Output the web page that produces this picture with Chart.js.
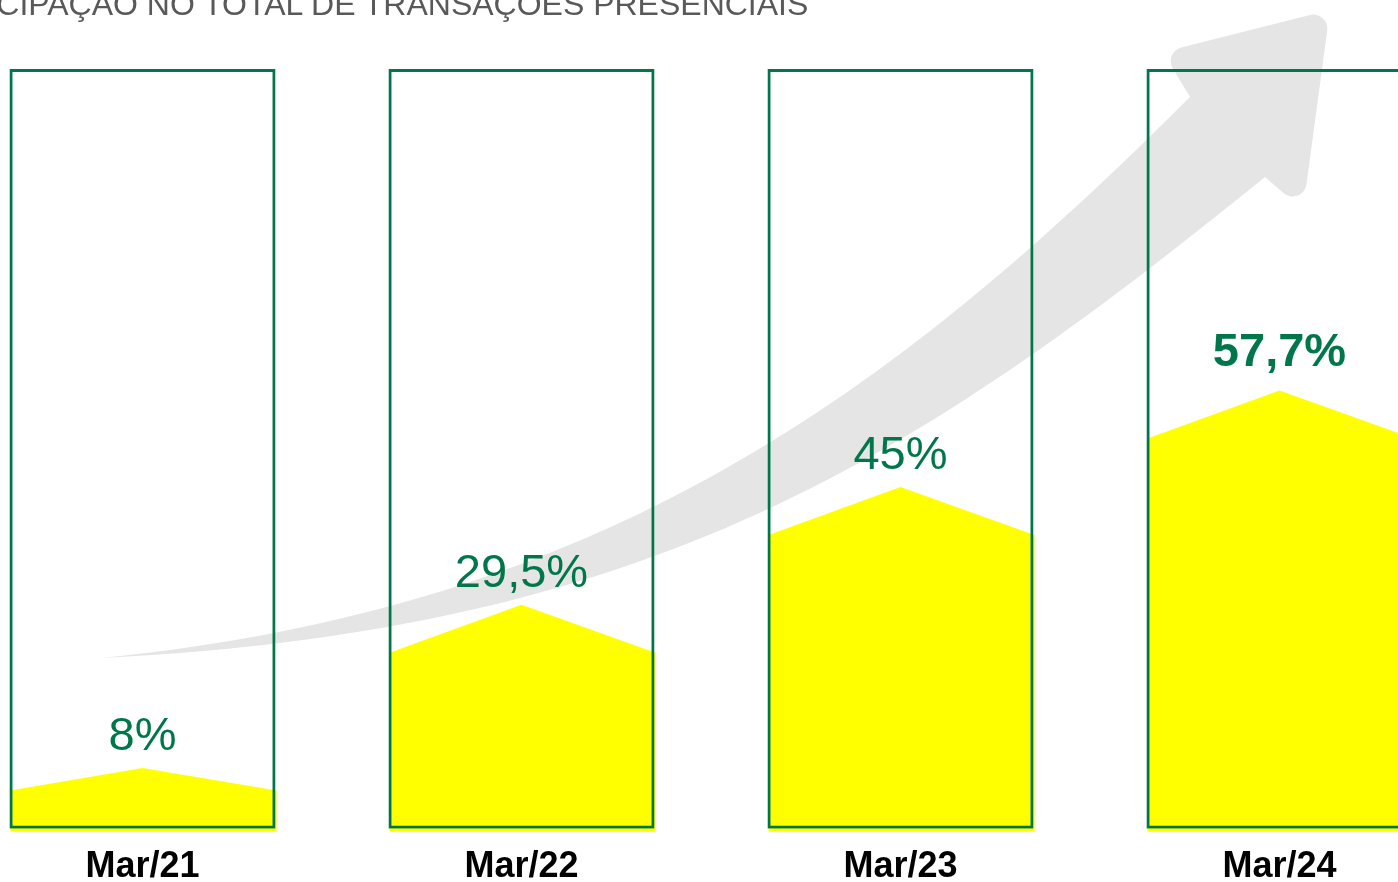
<!DOCTYPE html>
<html>
<head>
<meta charset="utf-8">
<script src="https://cdn.jsdelivr.net/npm/chart.js@4.4.1/dist/chart.umd.min.js"></script>
<style>
html, body { margin: 0; padding: 0; background: #fff; overflow: hidden; width: 1398px; height: 882px; }
#wrap { position: absolute; left: -47px; top: 0; width: 1516px; height: 919px; }
#title { position: absolute; left: -95px; top: -12px; font: 32px "Liberation Sans", Arial, sans-serif; line-height: 32px; color: #595959; white-space: nowrap; }
</style>
</head>
<body>
<div id="wrap"><canvas id="chart_1"></canvas></div>
<div id="title">PARTICIPAÇÃO NO TOTAL DE TRANSAÇÕES PRESENCIAIS</div>
<script>
let labels = ['Mar/21', 'Mar/22', 'Mar/23', 'Mar/24'];
let share = [8, 29.5, 45, 57.7];
let fullScale = [100, 100, 100, 100];
let highlight = [false, false, false, true];

const OFF = 47; // canvas starts left of the window
const green = '#00774a';
const font = '"Liberation Sans", Arial, sans-serif';

let fmt = v => String(v).replace('.', ',') + '%';

// grey growth arrow + yellow "house" shapes behind the frames, labels on top
let shapesPlugin = {
    id: 'shapes',
    beforeDatasetsDraw(chart) {
        const ctx = chart.ctx;
        const p = (x, y) => [x + OFF, y];
        ctx.save();
        ctx.fillStyle = '#e5e5e5';
        ctx.beginPath();
        ctx.moveTo(...p(102, 658));
        ctx.bezierCurveTo(...p(602, 608), ...p(890, 397), ...p(1190, 97));
        ctx.arcTo(...p(1163, 52), ...p(1330, 10), 14);
        ctx.arcTo(...p(1330, 10), ...p(1303, 210), 14);
        ctx.arcTo(...p(1303, 210), ...p(1265, 177), 14);
        ctx.lineTo(...p(1265, 177));
        ctx.bezierCurveTo(...p(915, 460.5), ...p(652, 630.5), ...p(102, 658));
        ctx.closePath();
        ctx.fill();

        ctx.fillStyle = '#ffff00';
        chart.getDatasetMeta(1).data.forEach(bar => {
            const {x, y, base, width} = bar.getProps(['x', 'y', 'base', 'width'], true);
            const l = x - width / 2 + 1, r = x + width / 2 + 1, b = base + 3;
            const drop = Math.min(48, (base - y) * 0.37);
            ctx.beginPath();
            ctx.moveTo(l, b);
            ctx.lineTo(l, y + drop);
            ctx.lineTo(x, y);
            ctx.lineTo(r, y + drop);
            ctx.lineTo(r, b);
            ctx.closePath();
            ctx.fill();
        });
        ctx.restore();
    },
    afterDatasetsDraw(chart) {
        const ctx = chart.ctx;
        ctx.save();
        ctx.textAlign = 'center';
        ctx.textBaseline = 'alphabetic';
        ctx.fillStyle = green;
        chart.getDatasetMeta(1).data.forEach((bar, i) => {
            ctx.font = (highlight[i] ? 'bold ' : '') + '47px ' + font;
            ctx.fillText(fmt(share[i]), bar.x, bar.y - (highlight[i] ? 24 : 18));
        });
        ctx.restore();
    }
};

var chart1 = new Chart(document.getElementById('chart_1'), {
    type: 'bar',
    data: {
        labels: labels,
        datasets: [
            {
                data: fullScale,
                backgroundColor: 'rgba(0,0,0,0)',
                borderColor: green,
                borderWidth: 3,
                borderSkipped: false,
                grouped: false,
                order: 0,
                barPercentage: 0.702,
                categoryPercentage: 1
            },
            {
                data: share,
                backgroundColor: 'rgba(0,0,0,0)',
                borderWidth: 0,
                grouped: false,
                order: 1,
                barPercentage: 0.702,
                categoryPercentage: 1
            }
        ]
    },
    options: {
        responsive: true,
        maintainAspectRatio: false,
        animation: false,
        layout: { padding: { top: 69, bottom: 13, left: 0, right: 0 } },
        plugins: {
            legend: { display: false },
            tooltip: { enabled: false }
        },
        scales: {
            x: {
                grid: { display: false, drawTicks: false },
                border: { display: false },
                ticks: { padding: 17, color: '#000', maxRotation: 0, font: { family: font, size: 36, weight: 'bold' } }
            },
            y: { display: false, min: 0, max: 100 }
        }
    },
    plugins: [shapesPlugin]
});
</script>
</body>
</html>
